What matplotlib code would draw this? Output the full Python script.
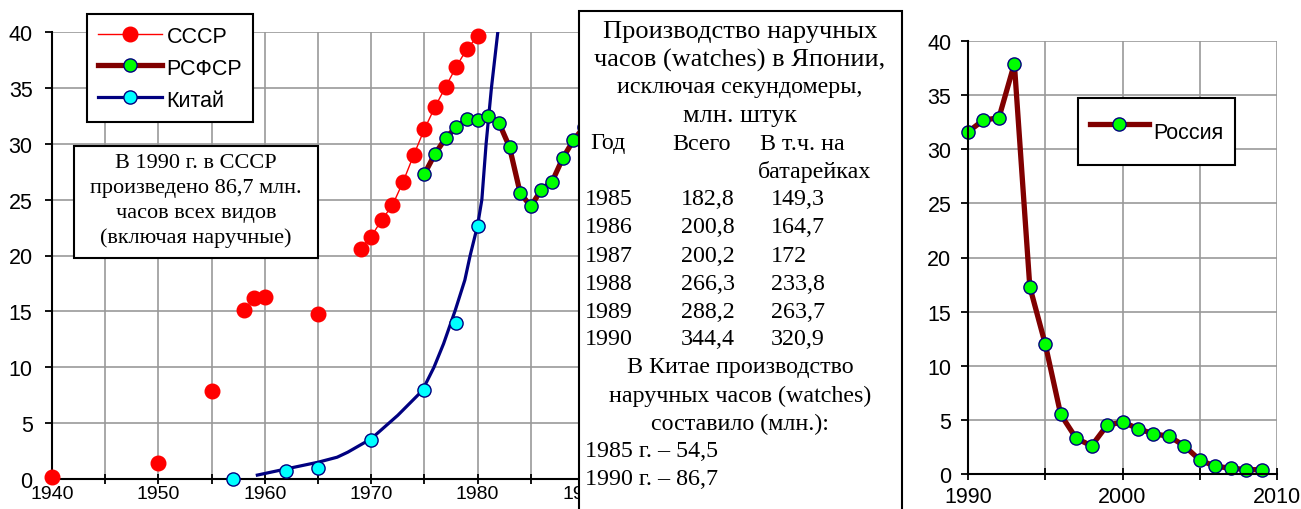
import matplotlib.pyplot as plt
from matplotlib.patches import Rectangle
from matplotlib.lines import Line2D
from matplotlib.ticker import MultipleLocator

# СССР: early isolated points and the connected part
ussr_dot_years = [1940, 1950, 1955, 1958, 1959, 1960, 1965]
ussr_dot_vals = [0.2, 1.4, 7.9, 15.1, 16.2, 16.3, 14.8]
ussr_years = [1969, 1970, 1971, 1972, 1973, 1974, 1975, 1976, 1977, 1978, 1979, 1980]
ussr_vals = [20.6, 21.7, 23.2, 24.5, 26.6, 29.0, 31.3, 33.3, 35.1, 36.9, 38.5, 39.6]

# РСФСР
rsfsr_years = list(range(1975, 1991))
rsfsr_vals = [27.3, 29.1, 30.5, 31.5, 32.2, 32.1, 32.5, 31.9, 29.7, 25.6,
              24.4, 25.9, 26.6, 28.7, 30.3, 31.5]

# Китай: markers and the curve drawn through them
china_years = [1957, 1962, 1965, 1970, 1975, 1978, 1980]
china_vals = [0.0, 0.7, 1.0, 3.5, 8.0, 14.0, 22.6]
china_curve_years = [1959.3, 1962, 1965, 1966.8, 1967.8, 1970, 1972.5, 1974.8, 1975.9,
                     1976.8, 1977.9, 1978.8, 1979.3, 1980, 1980.4, 1980.8, 1981.3, 1981.9, 1982.1]
china_curve_vals = [0.35, 0.9, 1.5, 1.95, 2.4, 3.6, 5.7, 7.9, 10.0,
                    12.1, 15.1, 17.8, 20.0, 22.7, 25.0, 30.0, 35.0, 40.0, 42.0]

# Россия
russia_years = list(range(1990, 2010))
russia_vals = [31.6, 32.7, 32.9, 37.9, 17.3, 12.0, 5.5, 3.3, 2.6, 4.5,
               4.8, 4.2, 3.7, 3.5, 2.6, 1.3, 0.7, 0.55, 0.4, 0.4]

# Japan table
japan_rows = [("1985", "182,8", "149,3"), ("1986", "200,8", "164,7"), ("1987", "200,2", "172"),
              ("1988", "266,3", "233,8"), ("1989", "288,2", "263,7"), ("1990", "344,4", "320,9")]

W, H = 1301, 510
SANS = "Liberation Sans"
SERIF = "Liberation Serif"
DARKRED = "#800000"
NAVY = "#000080"


def fx(px):
    return px / W


def fy(py):
    return 1 - py / H


def style_axes(a, xsize, xpad, xlen, ypad):
    a.set_ylim(0, 40)
    a.xaxis.set_major_locator(MultipleLocator(10))
    a.xaxis.set_minor_locator(MultipleLocator(5))
    a.yaxis.set_major_locator(MultipleLocator(5))
    a.grid(True, which="both", color="#999999", lw=1.2)
    a.set_axisbelow(True)
    for s in ["top", "right"]:
        a.spines[s].set_visible(False)
    for s in ["left", "bottom"]:
        a.spines[s].set_linewidth(1.5)
    a.tick_params(axis="x", which="both", direction="inout", length=xlen, width=1.3, pad=xpad)
    a.tick_params(axis="y", which="both", direction="out", length=5, width=1.3, pad=ypad)
    for lab in a.get_xticklabels():
        lab.set_fontfamily(SANS)
        lab.set_fontsize(xsize)
    for lab in a.get_yticklabels():
        lab.set_fontfamily(SANS)
        lab.set_fontsize(15.5)


fig = plt.figure(figsize=(13.01, 5.10), dpi=100)

# left panel
ax = fig.add_axes([fx(52), fy(480), fx(584) - fx(52), fy(33) - fy(480)])
ax.set_xlim(1940, 1990)
style_axes(ax, 14, 1.0, 7, 9)

ax.plot(china_curve_years, china_curve_vals, color=NAVY, lw=2.3, zorder=2)
ax.plot(china_years, china_vals, ls="none", marker="o", ms=9.5, mfc="#00ffff",
        mec=NAVY, mew=1.0, clip_on=False, zorder=4)
ax.plot(ussr_dot_years, ussr_dot_vals, ls="none", marker="o", ms=10.5, mfc="red",
        mec="red", clip_on=False, zorder=4)
ax.plot(ussr_years, ussr_vals, color="red", lw=1.0, marker="o", ms=10.5, mfc="red",
        mec="red", clip_on=False, zorder=4)
ax.plot(rsfsr_years, rsfsr_vals, color=DARKRED, lw=3.8, marker="o", ms=9.5, mfc="#00ff00",
        mec=NAVY, mew=1.0, zorder=3)

handles = [
    Line2D([], [], color="red", lw=1.0, marker="o", ms=10.5, mfc="red", mec="red"),
    Line2D([], [], color=DARKRED, lw=3.8, marker="o", ms=9.5, mfc="#00ff00", mec=NAVY, mew=1.0),
    Line2D([], [], color=NAVY, lw=2.3, marker="o", ms=9.5, mfc="#00ffff", mec=NAVY, mew=1.0),
]
leg = ax.legend(handles, ["СССР", "РСФСР", "Китай"], loc="upper left",
                bbox_to_anchor=(fx(87), fy(15)), bbox_transform=fig.transFigure,
                prop={"family": SANS, "size": 15.5}, frameon=True, fancybox=False,
                edgecolor="black", framealpha=1, handlelength=3.0, handletextpad=0.2,
                handleheight=1.1, labelspacing=0.42, borderpad=0.5, borderaxespad=0)
leg.get_frame().set_linewidth(1.5)

# note box in the left panel
fig.add_artist(Rectangle((fx(74), fy(259)), fx(318) - fx(74), fy(147) - fy(259),
                         transform=fig.transFigure, facecolor="white", edgecolor="black",
                         lw=1.5, zorder=5))
note = ["В 1990 г. в СССР", "произведено 86,7 млн.", "часов всех видов", "(включая наручные)"]
for i, line in enumerate(note):
    fig.text(fx(196), fy(164 + i * 24.7), line, ha="center", va="center",
             family=SERIF, fontsize=16, zorder=6)

# right panel
ax2 = fig.add_axes([fx(968), fy(475), fx(1277) - fx(968), fy(42) - fy(475)])
ax2.set_xlim(1990, 2010)
style_axes(ax2, 15.5, 4, 9, 7)
ax2.plot(russia_years, russia_vals, color=DARKRED, lw=3.8, marker="o", ms=9.5, mfc="#00ff00",
         mec=NAVY, mew=1.0, clip_on=False, label="Россия")
leg2 = ax2.legend(loc="upper left", bbox_to_anchor=(fx(1078), fy(99)),
                  bbox_transform=fig.transFigure, prop={"family": SANS, "size": 15.5},
                  frameon=True, fancybox=False, edgecolor="black", framealpha=1,
                  handlelength=2.75, handletextpad=0.2, handleheight=2.75,
                  borderpad=0.55, borderaxespad=0)
leg2.get_frame().set_linewidth(1.5)

# Japan text box, covering the right part of the left panel
fig.add_artist(Rectangle((fx(579), -0.02), fx(902) - fx(579), fy(12) + 0.02,
                         transform=fig.transFigure, facecolor="white", edgecolor="black",
                         lw=1.5, zorder=5))

step = 28.0
cx = 740


def line_y(i):
    return fy(32 + i * step)


def put(x, i, s, ha="left", size=17.3):
    fig.text(fx(x), line_y(i), s, ha=ha, va="center", family=SERIF, fontsize=size, zorder=6)


put(cx, 0, "Производство наручных", "center", 19)
put(cx, 1, "часов (watches) в Японии,", "center", 19)
put(cx, 2, "исключая секундомеры,", "center")
put(cx, 3, "млн. штук", "center", 18.8)
put(590, 4, "Год")
put(672, 4, "Всего")
put(760, 4, "В т.ч. на")
put(758, 5, "батарейках")
for k, (yr, tot, bat) in enumerate(japan_rows):
    put(585, 6 + k, yr)
    put(681, 6 + k, tot)
    put(771, 6 + k, bat)
put(cx, 12, "В Китае производство", "center")
put(cx, 13, "наручных часов (watches)", "center")
put(cx, 14, "составило (млн.):", "center")
put(585, 15, "1985 г. – 54,5")
put(585, 16, "1990 г. – 86,7")

fig.savefig("out.png", dpi=100)
